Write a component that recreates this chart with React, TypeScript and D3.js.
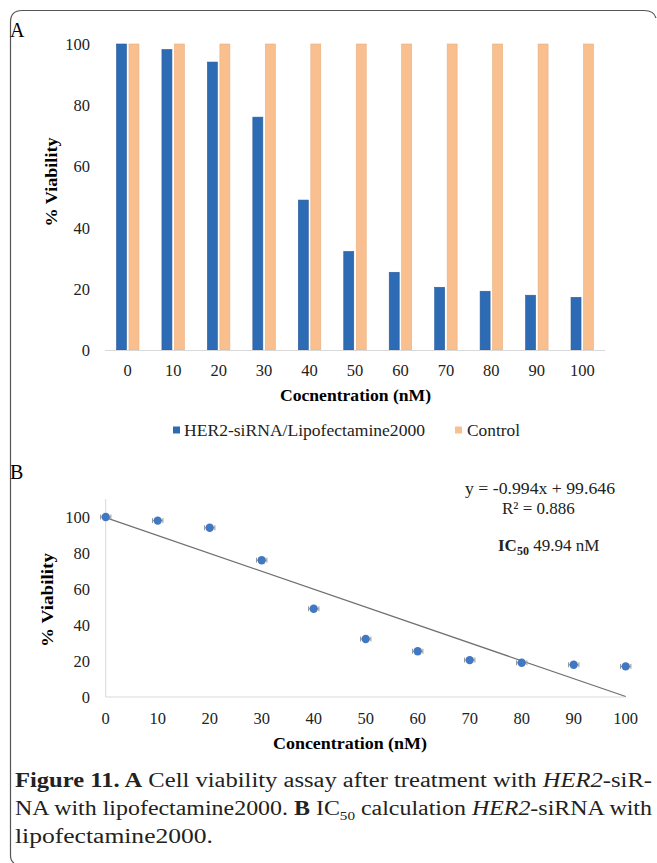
import React from 'react';
import * as d3 from 'd3';

// concentrations (nM)
const concentrations = [0, 10, 20, 30, 40, 50, 60, 70, 80, 90, 100];
const treatedViability = [100, 98.2, 94.1, 76.1, 49, 32.2, 25.4, 20.5, 19.2, 17.9, 17.2];
const controlViability = [100, 100, 100, 100, 100, 100, 100, 100, 100, 100, 100];
const seriesNames = ['HER2-siRNA/Lipofectamine2000', 'Control'];
const seriesColors = ['#2e6bb5', '#f9bf8e'];
const yTicksA = [0, 20, 40, 60, 80, 100];

// panel B: same points with small horizontal error bars
const scatterY = [100, 98, 94, 76, 49, 32.2, 25.4, 20.5, 19, 17.9, 17];
const xErr = [1, 1, 1, 1, 1, 1, 1, 1, 1, 1, 1];
const slope = -0.994;
const intercept = 99.646;
const yTicksB = [0, 20, 40, 60, 80, 100];
const xTicksB = [0, 10, 20, 30, 40, 50, 60, 70, 80, 90, 100];

const serif = 'Liberation Serif';

function PanelA() {
    const x = d3.scaleBand<number>().domain(concentrations).range([105, 605]).paddingInner(0.505).paddingOuter(0.2525);
    const sub = d3.scaleBand<number>().domain([0, 1]).range([0, x.bandwidth()]).paddingInner(0.2);
    const y = d3.scaleLinear().domain([0, 100]).range([350, 44]);
    const series = [treatedViability, controlViability];

    return (
        <g>
            <text x={10} y={37} fontSize={20} fontFamily={serif}>A</text>
            {yTicksA.map(t => (
                <text key={t} x={90} y={y(t) + 6} textAnchor="end" fontSize={16.5} fontFamily={serif} fill="#222">{t}</text>
            ))}
            {series.map((vals, si) => vals.map((v, i) => (
                <rect key={`${si}-${i}`}
                      x={x(concentrations[i])! + sub(si)!}
                      y={y(v)}
                      width={sub.bandwidth()}
                      height={y(0) - y(v)}
                      fill={seriesColors[si]}
                      stroke={si === 0 ? '#285c9c' : '#e8b082'}
                      strokeWidth={0.6} />
            )))}
            <line x1={105} x2={605} y1={y(0) + 0.5} y2={y(0) + 0.5} stroke="#d9d9d9" />
            {concentrations.map(c => (
                <text key={c} x={x(c)! + x.bandwidth() / 2} y={376} textAnchor="middle" fontSize={16.5} fontFamily={serif} fill="#222">{c}</text>
            ))}
            <text x={355.5} y={401} textAnchor="middle" fontSize={17} fontWeight="bold" fontFamily={serif} textLength={151} lengthAdjust="spacingAndGlyphs">Cocnentration (nM)</text>
            <text transform="translate(57,182) rotate(-90)" textAnchor="middle" fontSize={17} fontWeight="bold" fontFamily={serif} textLength={89} lengthAdjust="spacingAndGlyphs">% Viability</text>
            {/* legend */}
            <rect x={173} y={426.5} width={7} height={7} fill={seriesColors[0]} />
            <text x={184} y={436} fontSize={17} fontFamily={serif} fill="#222" textLength={241} lengthAdjust="spacingAndGlyphs">{seriesNames[0]}</text>
            <rect x={455} y={426.5} width={7} height={7} fill={seriesColors[1]} />
            <text x={467} y={436} fontSize={17} fontFamily={serif} fill="#222" textLength={53} lengthAdjust="spacingAndGlyphs">{seriesNames[1]}</text>
        </g>
    );
}

function PanelB() {
    const x = d3.scaleLinear().domain([0, 100]).range([105.7, 625.7]);
    const y = d3.scaleLinear().domain([0, 100]).range([697, 517]);
    const fit = d3.line<number>().x(d => x(d)).y(d => y(slope * d + intercept));

    return (
        <g>
            <text x={10} y={479} fontSize={20} fontFamily={serif}>B</text>
            <line x1={x(0)} x2={x(0)} y1={y(110)} y2={y(0)} stroke="#d9d9d9" />
            <line x1={x(0)} x2={x(100)} y1={y(0)} y2={y(0)} stroke="#d9d9d9" />
            {yTicksB.map(t => (
                <text key={t} x={90} y={y(t) + 6} textAnchor="end" fontSize={16.5} fontFamily={serif} fill="#222">{t}</text>
            ))}
            {xTicksB.map(t => (
                <text key={t} x={x(t)} y={724} textAnchor="middle" fontSize={16.5} fontFamily={serif} fill="#222">{t}</text>
            ))}
            <path d={fit([0, 100]) ?? ''} stroke="#707070" strokeWidth={1.2} fill="none" />
            {concentrations.map((c, i) => (
                <g key={c}>
                    <line x1={x(c - xErr[i])} x2={x(c + xErr[i])} y1={y(scatterY[i])} y2={y(scatterY[i])} stroke="#9a9a9a" />
                    <line x1={x(c - xErr[i])} x2={x(c - xErr[i])} y1={y(scatterY[i]) - 2.5} y2={y(scatterY[i]) + 2.5} stroke="#9a9a9a" />
                    <line x1={x(c + xErr[i])} x2={x(c + xErr[i])} y1={y(scatterY[i]) - 2.5} y2={y(scatterY[i]) + 2.5} stroke="#9a9a9a" />
                    <circle cx={x(c)} cy={y(scatterY[i])} r={4.2} fill="#4178c3" />
                </g>
            ))}
            <text x={350} y={749} textAnchor="middle" fontSize={17} fontWeight="bold" fontFamily={serif} textLength={154} lengthAdjust="spacingAndGlyphs">Concentration (nM)</text>
            <text transform="translate(53,600) rotate(-90)" textAnchor="middle" fontSize={17} fontWeight="bold" fontFamily={serif} textLength={94} lengthAdjust="spacingAndGlyphs">% Viability</text>
            <text x={465} y={494} fontSize={17} fontFamily={serif} fill="#222" textLength={150} lengthAdjust="spacingAndGlyphs">y = -0.994x + 99.646</text>
            <text x={502} y={514} fontSize={17} fontFamily={serif} fill="#222">R² = 0.886</text>
            <text x={498} y={551} fontSize={17} fontFamily={serif} fill="#222">
                <tspan fontWeight="bold">IC</tspan>
                <tspan fontWeight="bold" fontSize={12} dy={4}>50</tspan>
                <tspan dy={-4}> 49.94 nM</tspan>
            </text>
        </g>
    );
}

function Caption() {
    return (
        <g fontFamily={serif} fontSize={20.5} fill="#222">
            <text x={15} y={787} textLength={637} lengthAdjust="spacingAndGlyphs">
                <tspan fontWeight="bold">Figure 11. A</tspan>
                <tspan> Cell viability assay after treatment with </tspan>
                <tspan fontStyle="italic">HER2</tspan>
                <tspan>-siR-</tspan>
            </text>
            <text x={15} y={815} textLength={637} lengthAdjust="spacingAndGlyphs">
                <tspan>NA with lipofectamine2000. </tspan>
                <tspan fontWeight="bold">B</tspan>
                <tspan> IC</tspan>
                <tspan fontSize={13} dy={5}>50</tspan>
                <tspan dy={-5}> calculation </tspan>
                <tspan fontStyle="italic">HER2</tspan>
                <tspan>-siRNA with</tspan>
            </text>
            <text x={15} y={843} textLength={198} lengthAdjust="spacingAndGlyphs">lipofectamine2000.</text>
        </g>
    );
}

export default function App() {
    return (
        <svg width={657} height={863} style={{ position: 'absolute', left: 0, top: 0, background: '#fff' }}>
            <path d="M 10.5 855 L 10.5 22 Q 10.5 10.5 22 10.5 L 644 10.5 Q 654 10.5 656 18"
                  stroke="#555" strokeWidth={1.2} fill="none" />
            <path d="M 10.5 855 Q 10.5 861 14 863" stroke="#555" strokeWidth={1.2} fill="none" />
            <PanelA />
            <PanelB />
            <Caption />
        </svg>
    );
}
